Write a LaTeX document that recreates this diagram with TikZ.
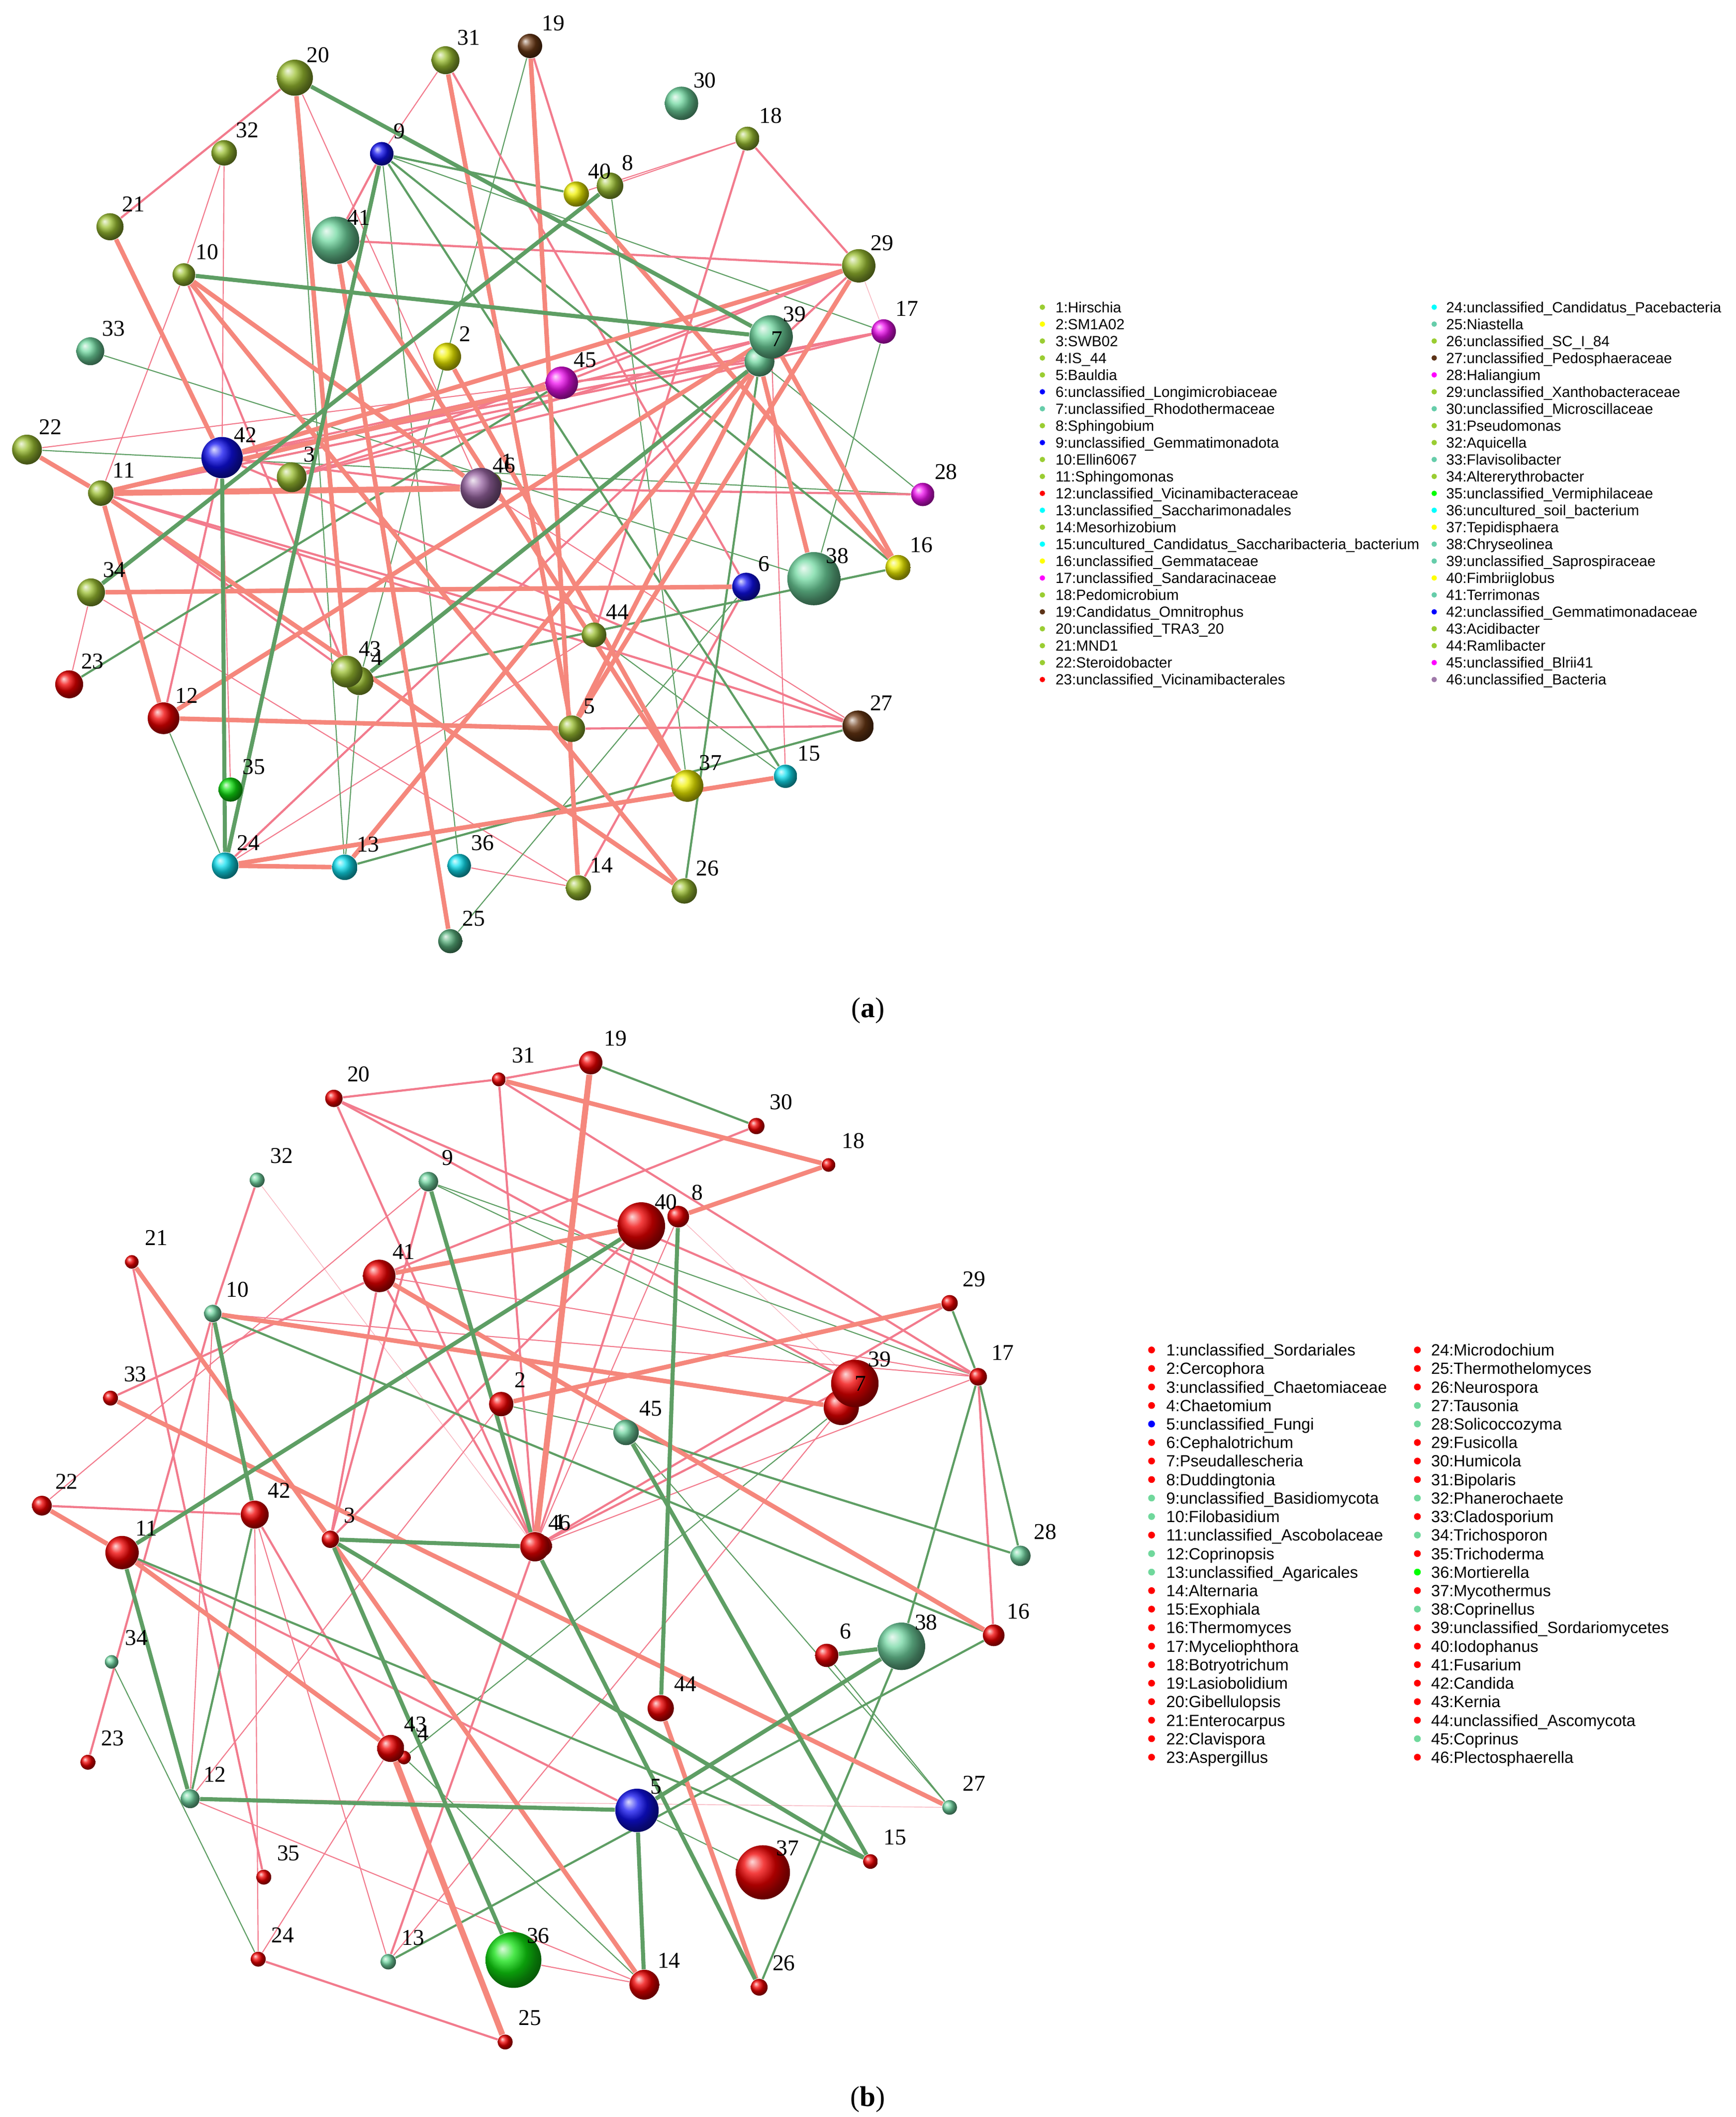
\documentclass[tikz,border=0pt]{standalone}
\usepackage{fontspec}
\setmainfont{Liberation Serif}
\newfontfamily\legfont{Liberation Sans}
\usetikzlibrary{backgrounds}

\definecolor{pinkc}{HTML}{F27B8D}
\definecolor{salmc}{HTML}{F5877C}
\definecolor{greenc}{HTML}{5E9E64}
% colori delle sfere
\definecolor{olivec}{HTML}{9CC032}
\definecolor{yellowc}{HTML}{F0F000}
\definecolor{bluec}{HTML}{1010F0}
\definecolor{aquac}{HTML}{70D8A0}
\definecolor{aquadc}{HTML}{58B07C}
\definecolor{redc}{HTML}{F00000}
\definecolor{cyanc}{HTML}{10E0F0}
\definecolor{magc}{HTML}{F010F0}
\definecolor{brownc}{HTML}{6A3814}
\definecolor{limec}{HTML}{10E010}
\definecolor{purc}{HTML}{9A66A4}
\definecolor{seac}{HTML}{72D6A2}
% colori della legenda
\definecolor{ygr}{HTML}{9ACD32}
\definecolor{ylw}{HTML}{FFFF00}
\definecolor{blu}{HTML}{0000FF}
\definecolor{aqm}{HTML}{66CDAA}
\definecolor{rd}{HTML}{FF0000}
\definecolor{cyn}{HTML}{00FFFF}
\definecolor{mgt}{HTML}{FF00FF}
\definecolor{brn}{HTML}{5C3317}
\definecolor{grn}{HTML}{00FF00}
\definecolor{pur}{HTML}{9F79A9}
\definecolor{lgn}{HTML}{70D89C}

\def\nodesA{1/361/357/9/olivec, 2/329.7/263/10.3/yellowc, 3/215.1/351.9/11/olivec,
  4/264.9/502/10.5/olivec, 5/421.6/537.3/9.8/olivec, 6/550.2/432.6/10.3/bluec,
  7/560/266.6/11/aquac, 8/449.8/137/9.8/olivec, 9/281.5/113.4/8.7/bluec,
  10/135.6/202.5/8.4/olivec, 11/74.4/363.6/9.4/olivec, 12/120.6/529.6/11.7/redc,
  13/254.2/639.5/9.4/cyanc, 14/426.5/654.7/9.3/olivec, 15/579.2/572.4/8.6/cyanc,
  16/662.2/418.5/9.3/yellowc, 17/651.6/244.4/9/magc, 18/551.1/102.2/8.8/olivec,
  19/390.8/33.9/9/brownc, 20/217.4/57.3/13.3/olivec, 21/81.1/167.2/10/olivec,
  22/19.9/331.5/11/olivec, 23/51/504.6/10.3/redc, 24/166/638.3/9.8/cyanc,
  25/332/694/8.9/aquadc, 26/504.6/657/9.3/olivec, 27/632.7/535.4/11.5/brownc,
  28/680.4/364.6/8.6/magc, 29/633.2/196/12.3/olivec, 30/502.5/76.2/12.3/aquac,
  31/328.5/44.4/10.3/olivec, 32/165.3/112.7/9.4/olivec, 33/66.6/259/10.3/aquac,
  34/67.1/436.8/10.3/olivec, 35/170/582.2/8.9/limec, 36/338.6/638.3/8.7/cyanc,
  37/506.8/579.4/11.8/yellowc, 38/600.1/426.7/19.6/aquac, 39/568.6/248.4/16/aquac,
  40/424.9/143.1/9.3/yellowc, 41/247.4/177.2/17.5/aquac, 42/163.7/337.4/15.2/bluec,
  43/255.6/495.2/11.7/olivec, 44/438/468.1/9.1/olivec, 45/414.2/282.3/12/magc,
  46/354.5/360/15/purc}

\def\nodesB{1/399/1140/8/redc, 2/369.6/1035.3/9/redc, 3/243.6/1135/6.4/redc,
  4/297.9/1295.9/5/redc, 5/469.7/1334.9/16/bluec, 6/609.6/1220.6/8.6/redc,
  7/620.3/1037.8/13/redc, 8/500.1/897.1/8/redc, 9/315.9/871.3/7.2/seac,
  10/156.9/968.5/6.4/seac, 11/90/1144.8/12.3/redc, 12/140.2/1326.3/7/seac,
  13/286.3/1446.5/5.7/seac, 14/475.1/1463.4/11/redc, 15/641.8/1372.6/5.4/redc,
  16/732.7/1205.8/8/redc, 17/721.2/1015.2/6.5/redc, 18/610.9/859/5/redc,
  19/435.6/783.6/8.6/redc, 20/246.2/809.9/6.4/redc, 21/97.2/930.5/5/redc,
  22/30.9/1110.2/7.3/redc, 23/64.8/1299.4/5.5/redc, 24/190.4/1444.6/5.5/redc,
  25/372.5/1505.7/5.5/redc, 26/559.8/1465.3/6.2/redc, 27/700.2/1332.7/5.4/seac,
  28/752.4/1147.2/7.5/seac, 29/700.2/960.9/6/redc, 30/557.7/830.3/6/redc,
  31/367.8/795.9/5.1/redc, 32/189.6/870.1/5.5/seac, 33/81.5/1030.9/5.5/redc,
  34/82.3/1225.4/5/seac, 35/194.5/1384.1/5.5/redc, 36/378.6/1445.2/20.6/limec,
  37/562.5/1380.6/20/redc, 38/664.7/1213.9/17.5/seac, 39/630.3/1020.1/17.5/redc,
  40/472.9/904/17.5/redc, 41/279.6/940.8/12/redc, 42/187.8/1116.8/10.3/redc,
  43/288.1/1289.2/10/redc, 44/487.2/1259.6/9.7/redc, 45/461.6/1056.2/9.4/seac,
  46/394.4/1140.5/10.8/redc}

\begin{document}
\begin{tikzpicture}[x=0.02cm, y=-0.02cm,
    sph/.style={circle, inner sep=0pt, ball color=#1},
    num/.style={anchor=base west, inner sep=0pt, font=\fontsize{9.5}{10}\selectfont},
    dot/.style={circle, inner sep=0pt, fill=#1, minimum size=0.8mm},
    leg/.style={anchor=base west, inner sep=0pt, font=\legfont\fontsize{6.2}{7}\selectfont},
    posfaint/.style={draw=pinkc!55, line width=0.3pt},
    posthin/.style={draw=pinkc, line width=0.45pt},
    posmid/.style={draw=pinkc, line width=0.9pt},
    posthick/.style={draw=salmc, line width=1.9pt},
    posheavy/.style={draw=salmc, line width=2.5pt},
    negthin/.style={draw=greenc, line width=0.45pt},
    negmid/.style={draw=greenc, line width=0.9pt},
    negthick/.style={draw=greenc, line width=1.7pt}]
    \useasboundingbox (0,0) rectangle (1280,1561);

    % Rete (a): sfere ed etichette
    \foreach \n/\x/\y/\rr/\cc in \nodesA {
        \node[sph=\cc, minimum size=\rr*0.4mm] (a\n) at (\x,\y) {};
    }
    \foreach \n/\x/\y/\rr/\cc in \nodesA {
        \node[num] at (\x+8.5,\y-11.3) {\n};
    }
    % Collegamenti della rete (a)
    \begin{scope}[on background layer]
        \foreach \u/\v in {29/17}
            \draw[posfaint] (a\u) -- (a\v);
        \foreach \u/\v in {20/46, 32/10, 32/42, 31/9, 10/11, 22/45, 42/35, 34/23,
                34/14, 24/44, 40/18, 8/18, 36/14, 39/15, 46/27}
            \draw[posthin] (a\u) -- (a\v);
        \foreach \u/\v in {20/13, 19/4, 9/17, 33/38, 22/28, 12/24, 13/4, 17/38,
                7/28, 8/37, 44/15, 25/6, 9/36}
            \draw[negthin] (a\u) -- (a\v);
        \foreach \u/\v in {20/21, 19/40, 9/41, 41/29, 10/43, 42/17, 42/46, 11/44,
                11/27, 11/39, 11/43, 5/27, 12/42, 46/28, 18/29, 14/6, 29/45, 29/3,
                29/24, 17/11, 7/45, 18/44, 31/6, 42/27, 3/39, 3/17, 45/42}
            \draw[posmid] (a\u) -- (a\v);
        \foreach \u/\v in {9/16, 9/15, 9/40, 23/45, 13/27, 4/16, 7/26}
            \draw[negmid] (a\u) -- (a\v);
        \foreach \u/\v in {20/43, 31/5, 19/14, 41/37, 41/25, 10/46, 21/42, 22/11,
                42/29, 11/12, 34/6, 12/5, 12/39, 24/13, 24/15, 13/7, 2/37, 40/16,
                29/5, 7/38, 39/16, 5/7, 10/26, 11/26, 45/11}
            \draw[posthick] (a\u) -- (a\v);
        \draw[posheavy] (a11) -- (a46);
        \foreach \u/\v in {20/39, 9/24, 34/8, 10/39, 42/24, 4/7}
            \draw[negthick] (a\u) -- (a\v);
    \end{scope}

    % Legenda (a)
    \foreach \n/\cc/\txt [count=\k from 0] in {1/ygr/Hirschia, 2/ylw/SM1A02,
            3/ygr/SWB02, 4/ygr/IS\_44, 5/ygr/Bauldia,
            6/blu/unclassified\_Longimicrobiaceae, 7/aqm/unclassified\_Rhodothermaceae,
            8/ygr/Sphingobium, 9/blu/unclassified\_Gemmatimonadota, 10/ygr/Ellin6067,
            11/ygr/Sphingomonas, 12/rd/unclassified\_Vicinamibacteraceae,
            13/cyn/unclassified\_Saccharimonadales, 14/ygr/Mesorhizobium,
            15/cyn/uncultured\_Candidatus\_Saccharibacteria\_bacterium,
            16/ylw/unclassified\_Gemmataceae, 17/mgt/unclassified\_Sandaracinaceae,
            18/ygr/Pedomicrobium, 19/brn/Candidatus\_Omnitrophus,
            20/ygr/unclassified\_TRA3\_20, 21/ygr/MND1, 22/ygr/Steroidobacter,
            23/rd/unclassified\_Vicinamibacterales} {
        \node[dot=\cc] (la\n) at (768.6,226.5+\k*12.48) {};
        \node[leg] at (778,230.4+\k*12.48) {\n:\txt};
    }
    \foreach \n/\cc/\txt [count=\k from 0] in {24/cyn/unclassified\_Candidatus\_Pacebacteria,
            25/aqm/Niastella, 26/ygr/unclassified\_SC\_I\_84,
            27/brn/unclassified\_Pedosphaeraceae, 28/mgt/Haliangium,
            29/ygr/unclassified\_Xanthobacteraceae, 30/aqm/unclassified\_Microscillaceae,
            31/ygr/Pseudomonas, 32/ygr/Aquicella, 33/aqm/Flavisolibacter,
            34/ygr/Altererythrobacter, 35/grn/unclassified\_Vermiphilaceae,
            36/cyn/uncultured\_soil\_bacterium, 37/ylw/Tepidisphaera,
            38/aqm/Chryseolinea, 39/aqm/unclassified\_Saprospiraceae,
            40/ylw/Fimbriiglobus, 41/aqm/Terrimonas,
            42/blu/unclassified\_Gemmatimonadaceae, 43/ygr/Acidibacter,
            44/ygr/Ramlibacter, 45/mgt/unclassified\_Blrii41,
            46/pur/unclassified\_Bacteria} {
        \node[dot=\cc] (la\n) at (1057.5,226.5+\k*12.48) {};
        \node[leg] at (1066,230.4+\k*12.48) {\n:\txt};
    }
    \node[font=\fontsize{12}{14}\selectfont] (capa) at (640,745) {(\textbf{a})};

    % Rete (b): sfere ed etichette
    \foreach \n/\x/\y/\rr/\cc in \nodesB {
        \node[sph=\cc, minimum size=\rr*0.4mm] (b\n) at (\x,\y) {};
    }
    \foreach \n/\x/\y/\rr/\cc in \nodesB {
        \node[num] at (\x+9.5,\y-12.3) {\n};
    }
    % Collegamenti della rete (b)
    \begin{scope}[on background layer]
        \foreach \u/\v in {32/46, 12/27, 8/39}
            \draw[posfaint] (b\u) -- (b\v);
        \foreach \u/\v in {22/9, 10/17, 17/46, 10/12, 41/17, 42/24, 42/13, 12/14,
                12/2, 24/43, 7/13, 36/14, 8/46}
            \draw[posthin] (b\u) -- (b\v);
        \foreach \u/\v in {9/17, 9/39, 2/45, 5/37, 6/27, 45/27, 34/24, 7/4, 4/14}
            \draw[negthin] (b\u) -- (b\v);
        \foreach \u/\v in {20/31, 20/17, 20/46, 31/19, 31/17, 31/46, 20/39, 30/41,
                40/3, 29/46, 17/16, 39/46, 10/32, 10/23, 21/35, 33/41, 22/42, 42/43,
                3/41, 9/3, 41/46, 2/46, 11/5, 13/46, 24/25, 40/46}
            \draw[posmid] (b\u) -- (b\v);
        \foreach \u/\v in {19/30, 29/17, 17/28, 17/38, 38/26, 45/28, 10/16, 42/12,
                11/15, 13/16}
            \draw[negmid] (b\u) -- (b\v);
        \foreach \u/\v in {31/18, 41/40, 18/8, 29/2, 10/7, 21/3, 33/27, 11/43,
                3/14, 44/26, 41/16, 22/11}
            \draw[posthick] (b\u) -- (b\v);
        \foreach \u/\v in {43/25, 19/46}
            \draw[posheavy] (b\u) -- (b\v);
        \foreach \u/\v in {40/11, 8/44, 45/15, 10/42, 3/46, 3/15, 3/36, 11/12,
                12/5, 5/14, 46/26, 9/46, 6/38, 5/38}
            \draw[negthick] (b\u) -- (b\v);
    \end{scope}

    % Legenda (b)
    \begin{scope}[leg/.append style={font=\legfont\fontsize{6.8}{7.5}\selectfont},
            dot/.append style={minimum size=1mm}]
    \foreach \n/\cc/\txt [count=\k from 0] in {1/rd/unclassified\_Sordariales,
            2/rd/Cercophora, 3/rd/unclassified\_Chaetomiaceae, 4/rd/Chaetomium,
            5/blu/unclassified\_Fungi, 6/rd/Cephalotrichum, 7/rd/Pseudallescheria,
            8/rd/Duddingtonia, 9/lgn/unclassified\_Basidiomycota, 10/lgn/Filobasidium,
            11/rd/unclassified\_Ascobolaceae, 12/lgn/Coprinopsis,
            13/lgn/unclassified\_Agaricales, 14/rd/Alternaria, 15/rd/Exophiala,
            16/rd/Thermomyces, 17/rd/Myceliophthora, 18/rd/Botryotrichum,
            19/rd/Lasiobolidium, 20/rd/Gibellulopsis, 21/rd/Enterocarpus,
            22/rd/Clavispora, 23/rd/Aspergillus} {
        \node[dot=\cc] (lb\n) at (849.1,995.4+\k*13.65) {};
        \node[leg] at (859.6,999.7+\k*13.65) {\n:\txt};
    }
    \foreach \n/\cc/\txt [count=\k from 0] in {24/rd/Microdochium,
            25/rd/Thermothelomyces, 26/rd/Neurospora, 27/lgn/Tausonia,
            28/lgn/Solicoccozyma, 29/rd/Fusicolla, 30/rd/Humicola, 31/rd/Bipolaris,
            32/lgn/Phanerochaete, 33/rd/Cladosporium, 34/lgn/Trichosporon,
            35/rd/Trichoderma, 36/grn/Mortierella, 37/rd/Mycothermus,
            38/lgn/Coprinellus, 39/rd/unclassified\_Sordariomycetes,
            40/rd/Iodophanus, 41/rd/Fusarium, 42/rd/Candida, 43/rd/Kernia,
            44/rd/unclassified\_Ascomycota, 45/lgn/Coprinus,
            46/rd/Plectosphaerella} {
        \node[dot=\cc] (lb\n) at (1045.1,995.4+\k*13.65) {};
        \node[leg] at (1054.9,999.7+\k*13.65) {\n:\txt};
    }
    \end{scope}
    \node[font=\fontsize{12}{14}\selectfont] (capb) at (640,1548) {(\textbf{b})};
\end{tikzpicture}
\end{document}
